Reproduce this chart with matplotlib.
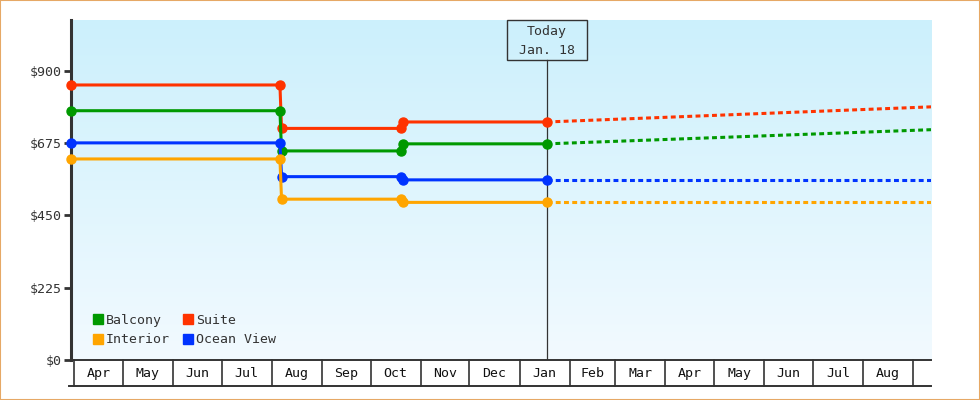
import numpy as np
import pandas as pd
import matplotlib
matplotlib.use("Agg")
import matplotlib.pyplot as plt
import matplotlib.transforms as mtransforms
from matplotlib.patches import Rectangle, Patch

# price history (step changes) and forecast, $ per person
dates = pd.to_datetime(["2024-03-30", "2024-08-06", "2024-08-07",
                        "2024-10-20", "2024-10-21", "2025-01-18"])
balcony = [775, 775, 650, 650, 672, 672]
suite = [855, 855, 720, 720, 740, 740]
interior = [625, 625, 500, 500, 490, 490]
ocean_view = [675, 675, 570, 570, 560, 560]

fc_dates = pd.to_datetime(["2025-01-18", "2025-09-12"])
fc_balcony = [672, 716]
fc_suite = [740, 787]
fc_interior = [490, 490]
fc_ocean_view = [560, 560]

today = pd.Timestamp("2025-01-18")
today_label = "Today\nJan. 18"
x_start, x_end = pd.Timestamp("2024-03-30"), pd.Timestamp("2025-09-12")
months = pd.date_range("2024-04-01", "2025-09-01", freq="MS")
y_ticks = [0, 225, 450, 675, 900]

series = [
    ("Suite", suite, fc_suite, "#ff3300"),
    ("Balcony", balcony, fc_balcony, "#009900"),
    ("Ocean View", ocean_view, fc_ocean_view, "#0033ff"),
    ("Interior", interior, fc_interior, "#ffa500"),
]

plt.rcParams["font.family"] = ["DejaVu Sans Mono"]
dark = "#333333"

fig = plt.figure(figsize=(9.8, 4), dpi=100)
ax = fig.add_axes([71 / 980, 0.1, 860 / 980, 0.85])

# gradient background
grad = np.linspace(0, 1, 256).reshape(-1, 1)
top = np.array([204, 240, 252]) / 255
bot = np.array([242, 250, 255]) / 255
img = top[None, None, :] * (1 - grad[:, :, None]) + bot[None, None, :] * grad[:, :, None]
ax.imshow(img, extent=[0, 1, 0, 1], transform=ax.transAxes, aspect="auto", zorder=0)

for name, hist, fc, col in series:
    ax.plot(dates, hist, color=col, lw=2.2, marker="o", ms=6.5, zorder=3, clip_on=False)
    ax.plot(fc_dates, fc, color=col, lw=2.2, ls=(0, (1.6, 1.1)), zorder=2.5)

ax.set_xlim(x_start, x_end)
ax.set_ylim(0, 1057)
ax.set_yticks(y_ticks)
ax.set_yticklabels(["$%d" % v for v in y_ticks])
ax.tick_params(axis="y", direction="out", length=5, width=2, color=dark,
               labelcolor=dark, labelsize=9.5, pad=2)
ax.set_xticks([])
for s in ["top", "right"]:
    ax.spines[s].set_visible(False)
ax.spines["left"].set_linewidth(2.2)
ax.spines["left"].set_color(dark)
ax.spines["bottom"].set_linewidth(1.4)
ax.spines["bottom"].set_color(dark)

# month cells below the axis
trans = mtransforms.blended_transform_factory(ax.transData, ax.transAxes)
cell_bot = -0.076
for m in months:
    ax.plot([m, m], [0, cell_bot], transform=trans, color=dark, lw=1.2, clip_on=False)
for a, b in zip(months[:-1], months[1:]):
    mid = a + (b - a) / 2
    ax.text(mid, -0.04, a.strftime("%b"), transform=trans, ha="center", va="center",
            fontsize=9.5, color="#111111")
ax.plot([x_start - pd.Timedelta(days=1), x_end], [cell_bot, cell_bot], transform=trans,
        color=dark, lw=1.4, clip_on=False)

# today marker
box_h = 40 / 340
ax.plot([today, today], [0, 1 - box_h], transform=trans, color=dark, lw=0.9, zorder=2)
ax.add_patch(Rectangle((today - pd.Timedelta(days=24.7), 1 - box_h), pd.Timedelta(days=49.4),
                       box_h, transform=trans, fill=False, ec=dark, lw=1, clip_on=False))
l1, l2 = today_label.split("\n")
ax.text(today, 1 - 12 / 340, l1, transform=trans, ha="center", va="center", fontsize=9.5, color=dark)
ax.text(today, 1 - 30 / 340, l2, transform=trans, ha="center", va="center", fontsize=9.5, color=dark)

cols = dict((n, c) for n, _, _, c in series)
order = ["Balcony", "Interior", "Suite", "Ocean View"]
handles = [Patch(color=cols[n], label=n) for n in order]
ax.legend(handles=handles, ncol=2, loc="lower left", bbox_to_anchor=(0.025, 0.04),
          frameon=False, fontsize=9.5, handlelength=0.76, handleheight=0.76,
          handletextpad=0.23, columnspacing=1.0, labelspacing=0.5, borderpad=0,
          borderaxespad=0, labelcolor=dark)

fig.patches.append(Rectangle((0, 0), 1, 1, transform=fig.transFigure, fill=False,
                             ec="#e6a865", lw=1.5))

fig.savefig("out.png", dpi=100)
